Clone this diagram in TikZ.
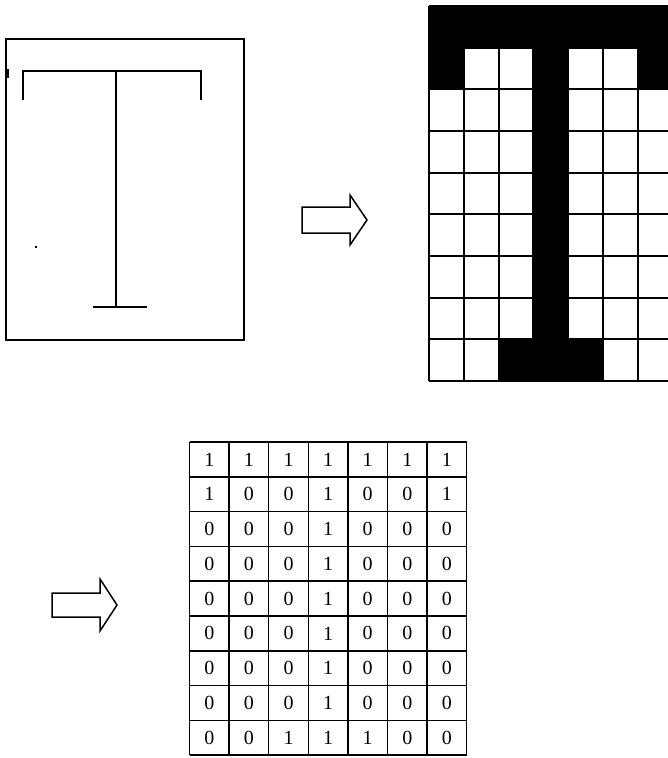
\documentclass[tikz,border=0pt]{standalone}
\usepackage{fontspec}
\setmainfont{Liberation Serif}
\begin{document}
\begin{tikzpicture}[
		x=1pt, y=-1pt,
		frame/.style={draw, line width=2pt},
		stroke/.style={line width=1.6pt},
		gridline/.style={line width=2.2pt},
		tabline/.style={line width=1.5pt},
		cell/.style={
			inner sep=0pt,
			font=\fontsize{20}{22}\selectfont
		},
		blockarrow/.style={
			draw,
			line width=1.5pt,
			fill=white,
			line join=miter
		}
		]
		
		\clip (0,0) rectangle (668,758);
		
		% Hand sketch of the letter
		\draw[frame] (6,39) rectangle (244,340);
		\draw[stroke] (23,100) -- (23,71) -- (201,71) -- (201,100);
		\draw[stroke] (116,71) -- (116,307);
		\draw[stroke] (93,307) -- (147,307);
		\draw[stroke] (8,69) -- (8,78);
		\fill (35,246) rectangle (37,248);
		
		% Block arrows
		\draw[blockarrow] (302,207) -- (350,207) -- (350,195) -- (367,220)
		-- (350,245) -- (350,233) -- (302,233) -- cycle;
		\draw[blockarrow] (52,593) -- (100,593) -- (100,579) -- (117,605)
		-- (100,631) -- (100,617) -- (52,617) -- cycle;
		
		% Pixel grid and binary table
		\foreach \line [count=\r] in {
			{1,1,1,1,1,1,1},
			{1,0,0,1,0,0,1},
			{0,0,0,1,0,0,0},
			{0,0,0,1,0,0,0},
			{0,0,0,1,0,0,0},
			{0,0,0,1,0,0,0},
			{0,0,0,1,0,0,0},
			{0,0,0,1,0,0,0},
			{0,0,1,1,1,0,0}}
		{
			\foreach \v [count=\c] in \line {
				\ifnum\v=1
				\fill ({429+34.8*(\c-1)},{6+41.67*(\r-1)})
				rectangle ++(34.8,41.67);
				\fi
				\node[cell] (cell-\r-\c) at ({189.5+39.6*(\c-0.5)},{442+34.8*(\r-0.5)}) {\v};
			}
		}
		
		\foreach \c in {0,...,7}
		\draw[gridline] ({429+34.8*\c},6) -- ({429+34.8*\c},381);
		\foreach \r in {0,...,9}
		\draw[gridline] (429,{6+41.67*\r}) -- (672.6,{6+41.67*\r});
		
		\foreach \c in {0,...,7}
		\draw[tabline] ({189.5+39.6*\c},442) -- ({189.5+39.6*\c},755.2);
		\foreach \r in {0,...,9}
		\draw[tabline] (189.5,{442+34.8*\r}) -- (466.7,{442+34.8*\r});
		
	\end{tikzpicture}
\end{document}
